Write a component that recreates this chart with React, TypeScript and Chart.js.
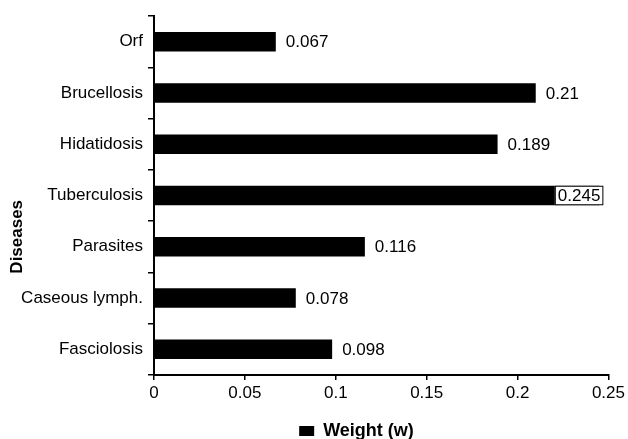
import React, { useEffect, useRef } from "react";
import { Chart, registerables } from "chart.js";

Chart.register(...registerables);

const categories = [
  "Orf",
  "Brucellosis",
  "Hidatidosis",
  "Tuberculosis",
  "Parasites",
  "Caseous lymph.",
  "Fasciolosis",
];
const weights = [0.067, 0.21, 0.189, 0.245, 0.116, 0.078, 0.098];
const seriesLabel = "Weight (w)";
const yAxisTitle = "Diseases";
const xMin = 0;
const xMax = 0.25;
const xStep = 0.05;

const FONT = "'Liberation Sans', Arial, sans-serif";

const valueLabels = {
  id: "valueLabels",
  afterDatasetsDraw(chart: any) {
    const ctx = chart.ctx;
    const meta = chart.getDatasetMeta(0);
    ctx.save();
    ctx.font = `17px ${FONT}`;
    ctx.textBaseline = "middle";
    ctx.textAlign = "left";
    meta.data.forEach((bar: any, i: number) => {
      const text = String(weights[i]);
      const w = ctx.measureText(text).width;
      const { x, y, height } = bar.getProps(["x", "y", "height"], true);
      if (x + 10 + w > chart.width - 2) {
        const right = x + 4;
        const left = right - w - 6;
        const top = y - height / 2;
        ctx.fillStyle = "#fff";
        ctx.fillRect(left, top, right - left, height);
        ctx.strokeStyle = "#000";
        ctx.lineWidth = 1;
        ctx.strokeRect(left + 0.5, top + 0.5, right - left - 1, height - 1);
        ctx.fillStyle = "#000";
        ctx.fillText(text, left + 3, y + 1);
      } else {
        ctx.fillStyle = "#000";
        ctx.fillText(text, x + 10, y + 1);
      }
    });
    ctx.restore();
  },
};

const sideTitle = {
  id: "sideTitle",
  afterDraw(chart: any) {
    const ctx = chart.ctx;
    const area = chart.chartArea;
    ctx.save();
    ctx.translate(17, area.top + area.height * 0.615);
    ctx.rotate(-Math.PI / 2);
    ctx.font = `bold 17px ${FONT}`;
    ctx.fillStyle = "#000";
    ctx.textAlign = "center";
    ctx.textBaseline = "middle";
    ctx.fillText(yAxisTitle, 0, 0);
    ctx.restore();
  },
};

// place the built-in legend below the plot, as in the reference
const legendPlacement = {
  id: "legendPlacement",
  afterLayout(chart: any) {
    const lg = chart.legend;
    if (!lg) return;
    const h = lg.height;
    lg.left = 85;
    lg.right = 628;
    lg.width = lg.right - lg.left;
    lg.top = 422;
    lg.bottom = lg.top + h;
  },
};

export default function App() {
  const canvasRef = useRef<HTMLCanvasElement | null>(null);

  useEffect(() => {
    if (!canvasRef.current) return;
    const chart = new Chart(canvasRef.current, {
      type: "bar",
      data: {
        labels: categories,
        datasets: [
          {
            label: seriesLabel,
            data: weights,
            backgroundColor: "#000",
            borderWidth: 0,
            barPercentage: 0.38,
            categoryPercentage: 1.0,
          },
        ],
      },
      options: {
        indexAxis: "y",
        animation: false,
        responsive: true,
        maintainAspectRatio: false,
        layout: { padding: { left: 0, top: 16, right: 19, bottom: 0 } },
        plugins: {
          legend: {
            position: "bottom",
            labels: {
              color: "#000",
              font: { family: FONT, size: 18, weight: "bold" },
              boxWidth: 15,
              boxHeight: 10,
              padding: 0,
            },
          },
          tooltip: { enabled: false },
        },
        scales: {
          x: {
            type: "linear",
            min: xMin,
            max: xMax,
            ticks: {
              stepSize: xStep,
              color: "#000",
              font: { family: FONT, size: 17 },
              padding: 3,
              maxRotation: 0,
              callback: (v: any) => String(Math.round(Number(v) * 100) / 100),
            },
            grid: {
              drawOnChartArea: false,
              drawTicks: true,
              tickLength: 5,
              color: "#000",
              lineWidth: 1.5,
            },
            border: { display: true, color: "#000", width: 2 },
            afterFit(scale: any) {
              scale.height = 36;
            },
          },
          y: {
            type: "category",
            offset: true,
            ticks: {
              color: "#000",
              font: { family: FONT, size: 17 },
              padding: 5,
            },
            grid: {
              offset: true,
              drawOnChartArea: false,
              drawTicks: true,
              tickLength: 6,
              color: "#000",
              lineWidth: 1.5,
            },
            border: { display: true, color: "#000", width: 2 },
            afterFit(scale: any) {
              scale.width = 154;
            },
          },
        },
      },
      plugins: [valueLabels, sideTitle, legendPlacement],
    } as any);
    return () => chart.destroy();
  }, []);

  return (
    <div style={{ position: "absolute", left: 0, top: 0, width: 628, height: 439 }}>
      <canvas ref={canvasRef} />
    </div>
  );
}
